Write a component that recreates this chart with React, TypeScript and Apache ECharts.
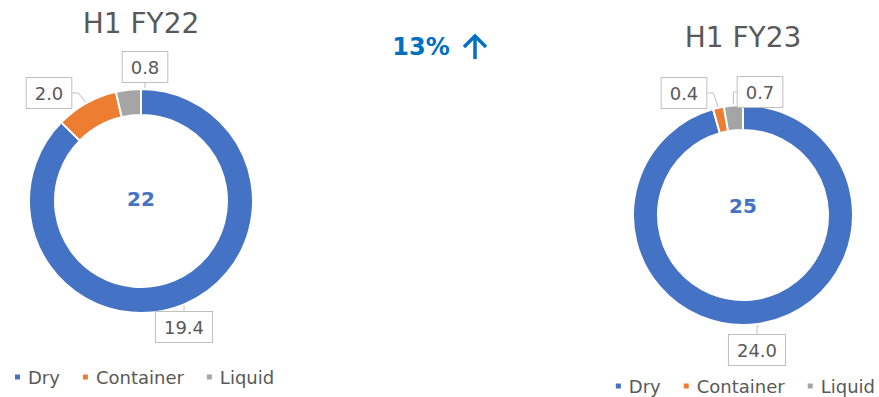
import React, { useEffect, useRef } from "react";
import * as echarts from "echarts";

const categories = ["Dry", "Container", "Liquid"];
const fy22Values = [19.4, 2.0, 0.8];
const fy23Values = [24.0, 0.4, 0.7];
const periodTitles = ["H1 FY22", "H1 FY23"];
const colors = ["#4472C4", "#ED7D31", "#A5A5A5"];

const FONT = "'DejaVu Sans', Verdana, sans-serif";

// label box centers (layout only)
const labelPos: number[][][] = [
  [
    [184, 327],
    [49, 93],
    [145, 67],
  ],
  [
    [757, 350],
    [684, 93],
    [760, 92],
  ],
];

export default function App() {
  const ref = useRef<HTMLDivElement>(null);
  useEffect(() => {
    document.body.style.margin = "0";
    if (!ref.current) return;
    const chart = echarts.init(ref.current, null, { renderer: "svg" });
    const sum = (a: number[]) => a.reduce((s, v) => s + v, 0);
    const t22 = sum(fy22Values);
    const t23 = sum(fy23Values);
    const growth = Math.round((t23 / t22 - 1) * 100);

    const makeSeries = (vals: number[], idx: number, center: number[], radius: number[]) => ({
      type: "pie",
      name: periodTitles[idx],
      center,
      radius,
      startAngle: 90,
      clockwise: true,
      avoidLabelOverlap: false,
      itemStyle: { borderColor: "#ffffff", borderWidth: 2 },
      emphasis: { disabled: true },
      label: {
        show: true,
        position: "outside",
        formatter: (p: any) => Number(p.value).toFixed(1),
        color: "#595959",
        fontSize: 18,
        fontFamily: FONT,
        lineHeight: 22,
        backgroundColor: "#ffffff",
        borderColor: "#BFBFBF",
        borderWidth: 1,
        padding: [4, 8, 4, 8],
      },
      labelLine: {
        show: true,
        length: 6,
        length2: 6,
        lineStyle: { color: "#BFBFBF", width: 1 },
      },
      labelLayout: (params: any) => {
        const p = labelPos[idx][params.dataIndex];
        return { x: p[0], y: p[1], align: "center", verticalAlign: "middle" };
      },
      data: categories.map((c, i) => ({
        name: c,
        value: vals[i],
        itemStyle: { color: colors[i] },
      })),
    });

    const legendBase = {
      orient: "horizontal",
      icon: "rect",
      itemWidth: 7,
      itemHeight: 7,
      itemGap: 21,
      padding: 0,
      selectedMode: false,
      textStyle: { color: "#595959", fontSize: 18, fontFamily: FONT, padding: [0, 0, 0, 2] },
      data: categories,
    };

    const growthColor = "#0070C0";

    chart.setOption({
      animation: false,
      color: colors,
      legend: [
        { ...legendBase, left: 13, top: 368 },
        { ...legendBase, right: 4, top: 377 },
      ],
      graphic: [
        {
          type: "text",
          x: 141,
          y: 23,
          style: { text: periodTitles[0], fill: "#595959", font: `28px ${FONT}`, align: "center", verticalAlign: "middle" },
        },
        {
          type: "text",
          x: 743,
          y: 37,
          style: { text: periodTitles[1], fill: "#595959", font: `28px ${FONT}`, align: "center", verticalAlign: "middle" },
        },
        {
          type: "text",
          x: 421,
          y: 47,
          style: { text: `${growth}%`, fill: growthColor, font: `bold 24px ${FONT}`, align: "center", verticalAlign: "middle" },
        },
        {
          type: "line",
          shape: { x1: 475, y1: 37, x2: 475, y2: 59 },
          style: { stroke: growthColor, lineWidth: 3.5 },
        },
        {
          type: "polyline",
          shape: { points: [[464, 47], [475, 36], [486, 47]] },
          style: { stroke: growthColor, lineWidth: 3.5, fill: null, lineJoin: "miter" },
        },
        {
          type: "text",
          x: 141,
          y: 199,
          style: { text: `${Math.round(t22)}`, fill: "#4472C4", font: `bold 20px ${FONT}`, align: "center", verticalAlign: "middle" },
        },
        {
          type: "text",
          x: 743,
          y: 206,
          style: { text: `${Math.round(t23)}`, fill: "#4472C4", font: `bold 20px ${FONT}`, align: "center", verticalAlign: "middle" },
        },
      ],
      series: [
        makeSeries(fy22Values, 0, [141, 201], [86, 112]),
        makeSeries(fy23Values, 1, [743, 215], [85, 110]),
      ],
    });
    return () => chart.dispose();
  }, []);
  return <div ref={ref} style={{ width: 879, height: 397 }} />;
}
